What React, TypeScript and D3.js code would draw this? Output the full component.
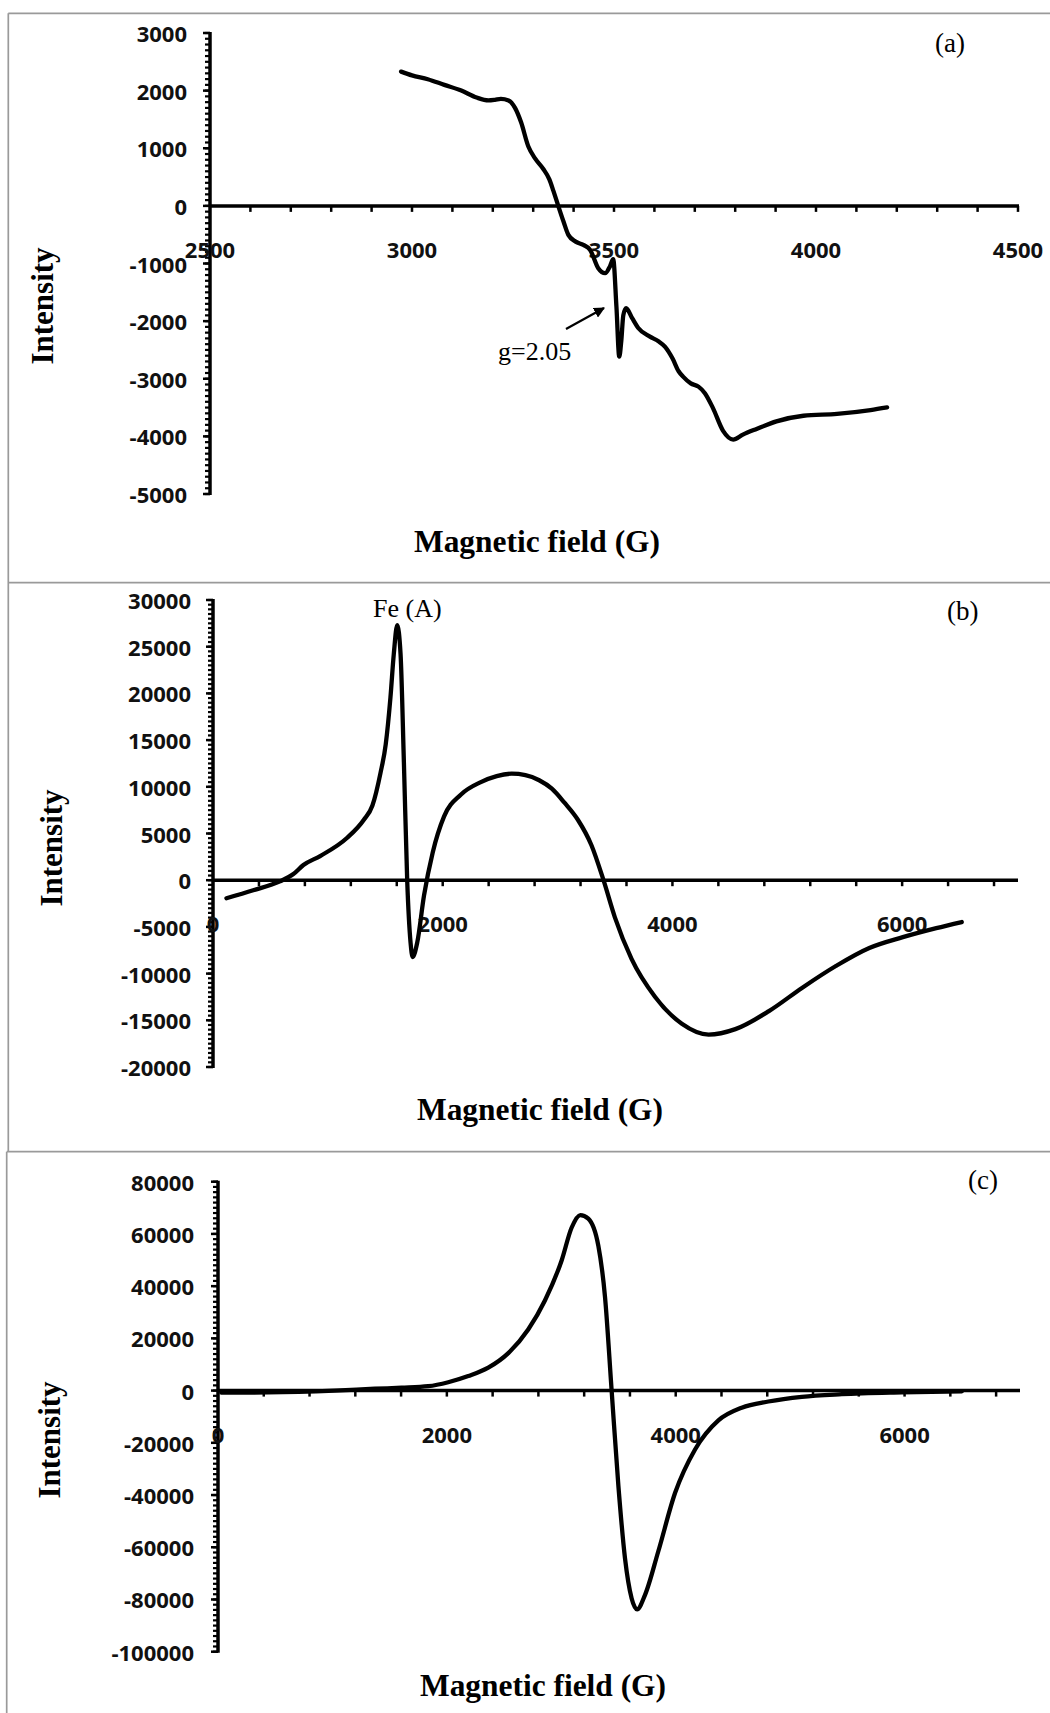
import React from 'react';
import * as d3 from 'd3';

// Panel (a)
const fieldA = [2973, 3000, 3039, 3080, 3122, 3160, 3189, 3205, 3220, 3239, 3255, 3270, 3288, 3305, 3325, 3340, 3350, 3362, 3375, 3387, 3405, 3424, 3441, 3461, 3478, 3490, 3498, 3506, 3513, 3518, 3523, 3530, 3545, 3560, 3589, 3610, 3626, 3645, 3660, 3671, 3690, 3709, 3725, 3745, 3770, 3795, 3819, 3853, 3902, 3969, 4052, 4135, 4176];
const intensityA = [2330, 2264, 2198, 2100, 2001, 1880, 1830, 1840, 1857, 1830, 1700, 1450, 1030, 820, 640, 460, 260, 0, -272, -503, -620, -677, -764, -1082, -1168, -1050, -925, -1750, -2616, -2350, -1900, -1776, -1950, -2120, -2269, -2350, -2443, -2650, -2870, -2963, -3080, -3137, -3250, -3510, -3904, -4055, -3970, -3871, -3740, -3642, -3609, -3543, -3497];

// Panel (b)
const fieldB = [117, 350, 583, 700, 787, 933, 1166, 1312, 1388, 1458, 1504, 1545, 1574, 1604, 1633, 1662, 1691, 1720, 1738, 1778, 1837, 1913, 2012, 2157, 2332, 2470, 2600, 2720, 2840, 2950, 3060, 3178, 3295, 3400, 3499, 3644, 3848, 4082, 4315, 4548, 4840, 5131, 5423, 5714, 6006, 6297, 6519];
const intensityB = [-1930, -1081, -116, 656, 1622, 2587, 4517, 6448, 7992, 11467, 14556, 19575, 24208, 27297, 24208, 12625, -116, -6680, -8224, -6680, -1660, 2973, 6834, 9151, 10502, 11150, 11400, 11250, 10700, 9800, 8300, 6448, 3745, 0, -3977, -8417, -12471, -15367, -16525, -15946, -14016, -11506, -9189, -7259, -6100, -5135, -4479];

// Panel (c)
const fieldC = [29, 437, 1020, 1370, 1604, 1837, 2012, 2187, 2362, 2537, 2711, 2857, 3003, 3090, 3166, 3236, 3324, 3382, 3440, 3499, 3557, 3615, 3662, 3732, 3848, 3994, 4169, 4373, 4577, 4810, 5102, 5452, 5977, 6501];
const intensityC = [-800, -700, 0, 700, 1100, 1670, 3200, 5570, 8770, 14340, 23390, 34520, 49830, 62360, 67230, 65840, 55400, 35910, 0, -36470, -64310, -79620, -83800, -78230, -61530, -39250, -22550, -11410, -6540, -4180, -2370, -1390, -700, -280];

const xTicksA = [2500, 3000, 3500, 4000, 4500];
const yTicksA = [3000, 2000, 1000, 0, -1000, -2000, -3000, -4000, -5000];
const xTicksBC = [0, 2000, 4000, 6000];
const yTicksB = [30000, 25000, 20000, 15000, 10000, 5000, 0, -5000, -10000, -15000, -20000];
const yTicksC = [80000, 60000, 40000, 20000, 0, -20000, -40000, -60000, -80000, -100000];

const TICK_FONT = '"Open Sans", "DejaVu Sans", sans-serif';
const SERIF = '"Liberation Serif", "Times New Roman", serif';

type PanelProps = {
  xs: number[]; ys: number[];
  xDomain: [number, number]; xRange: [number, number];
  yDomain: [number, number]; yRange: [number, number];
  xTicks: number[]; yTicks: number[];
  xMinor: number; yMinor: number;
  yLabelGap: number;
};

function Panel(p: PanelProps) {
  const x = d3.scaleLinear().domain(p.xDomain).range(p.xRange);
  const y = d3.scaleLinear().domain(p.yDomain).range(p.yRange);
  const x0 = x(p.xDomain[0]);
  const y0 = y(0);
  const line = d3.line<number>()
    .x((_, i) => x(p.xs[i]))
    .y((d) => y(d))
    .curve(d3.curveMonotoneX);
  const xMinorTicks = d3.range(p.xDomain[0] + p.xMinor, p.xDomain[1] + p.xMinor / 2, p.xMinor);
  const yMinorTicks = d3.range(p.yDomain[0], p.yDomain[1] + p.yMinor / 2, p.yMinor);
  return (
    <g>
      {yMinorTicks.map((v, i) => (
        <line key={'ym' + i} x1={x0 - 5} x2={x0} y1={y(v)} y2={y(v)} stroke="#000" strokeWidth={2.2} />
      ))}
      {p.yTicks.map((v) => (
        <line key={'yM' + v} x1={x0 - 7} x2={x0} y1={y(v)} y2={y(v)} stroke="#000" strokeWidth={2.5} />
      ))}
      <line x1={x0} x2={x0} y1={y(p.yDomain[1]) - 1} y2={y(p.yDomain[0]) + 1} stroke="#000" strokeWidth={3.5} />
      {xMinorTicks.map((v, i) => (
        <line key={'xm' + i} x1={x(v)} x2={x(v)} y1={y0} y2={y0 + 6} stroke="#000" strokeWidth={2.5} />
      ))}
      <line x1={x0} x2={x(p.xDomain[1]) + 1} y1={y0} y2={y0} stroke="#000" strokeWidth={3.5} />
      {p.yTicks.map((v) => (
        <text key={'yl' + v} x={x0 - p.yLabelGap} y={y(v)} textAnchor="end" dominantBaseline="central"
          fontFamily={TICK_FONT} fontWeight="bold" fontSize={22} fill="#111">{v}</text>
      ))}
      {p.xTicks.map((v) => (
        <text key={'xl' + v} x={x(v)} y={y0 + 43} textAnchor="middle" dominantBaseline="central"
          fontFamily={TICK_FONT} fontWeight="bold" fontSize={22} fill="#111">{v}</text>
      ))}
      <path d={line(p.ys) || ''} fill="none" stroke="#000" strokeWidth={4.3} strokeLinejoin="round" strokeLinecap="round" />
    </g>
  );
}

function AxisTitles({ ix, iy, mx, my }: { ix: number; iy: number; mx: number; my: number }) {
  return (
    <g>
      <text transform={`translate(${ix},${iy}) rotate(-90)`} textAnchor="middle" fontFamily={SERIF}
        fontWeight="bold" fontSize={31}>Intensity</text>
      <text x={mx} y={my} textAnchor="middle" fontFamily={SERIF} fontWeight="bold" fontSize={31}
        textLength={246} lengthAdjust="spacingAndGlyphs">Magnetic field (G)</text>
    </g>
  );
}

export default function App() {
  const border = '#9a9a9a';
  return (
    <svg width={1050} height={1713} style={{ position: 'absolute', left: 0, top: 0, background: '#fff' }}>
      <defs>
        <marker id="arr" viewBox="0 0 10 10" refX="9" refY="5" markerWidth="5" markerHeight="5" orient="auto-start-reverse">
          <path d="M0,0 L10,5 L0,10 z" fill="#000" />
        </marker>
      </defs>
      <rect x={0} y={0} width={1050} height={1713} fill="#fff" />
      {/* frames */}
      <line x1={8.3} x2={1060} y1={13.3} y2={13.3} stroke={border} strokeWidth={1.7} />
      <line x1={8.3} x2={8.3} y1={13.3} y2={1151.7} stroke={border} strokeWidth={1.7} />
      <line x1={8.3} x2={1060} y1={582.7} y2={582.7} stroke={border} strokeWidth={1.7} />
      <line x1={6.7} x2={1060} y1={1151.7} y2={1151.7} stroke={border} strokeWidth={1.7} />
      <line x1={6.7} x2={6.7} y1={1151.7} y2={1720} stroke={border} strokeWidth={1.7} />

      <Panel xs={fieldA} ys={intensityA} xDomain={[2500, 4500]} xRange={[210, 1018]}
        yDomain={[-5000, 3000]} yRange={[494, 33]} xTicks={xTicksA} yTicks={yTicksA}
        xMinor={100} yMinor={100} yLabelGap={23} />
      <Panel xs={fieldB} ys={intensityB} xDomain={[0, 7000]} xRange={[213, 1017]}
        yDomain={[-20000, 30000]} yRange={[1067, 600]} xTicks={xTicksBC} yTicks={yTicksB}
        xMinor={400} yMinor={500} yLabelGap={22} />
      <Panel xs={fieldC} ys={intensityC} xDomain={[0, 7000]} xRange={[218, 1019]}
        yDomain={[-100000, 80000]} yRange={[1651.7, 1181.7]} xTicks={xTicksBC} yTicks={yTicksC}
        xMinor={400} yMinor={2000} yLabelGap={24} />

      <AxisTitles ix={53} iy={306} mx={537} my={552} />
      <AxisTitles ix={62} iy={848} mx={540} my={1120} />
      <AxisTitles ix={60} iy={1440} mx={543} my={1696} />

      <text x={935} y={52} fontFamily={SERIF} fontSize={27}>(a)</text>
      <text x={947} y={620} fontFamily={SERIF} fontSize={27}>(b)</text>
      <text x={968} y={1189} fontFamily={SERIF} fontSize={27}>(c)</text>
      <text x={373} y={617} fontFamily={SERIF} fontSize={26}>Fe (A)</text>
      <text x={498} y={360} fontFamily={SERIF} fontSize={26}>g=2.05</text>
      <line x1={566} y1={329} x2={604} y2={308} stroke="#000" strokeWidth={2.2} markerEnd="url(#arr)" />
    </svg>
  );
}
